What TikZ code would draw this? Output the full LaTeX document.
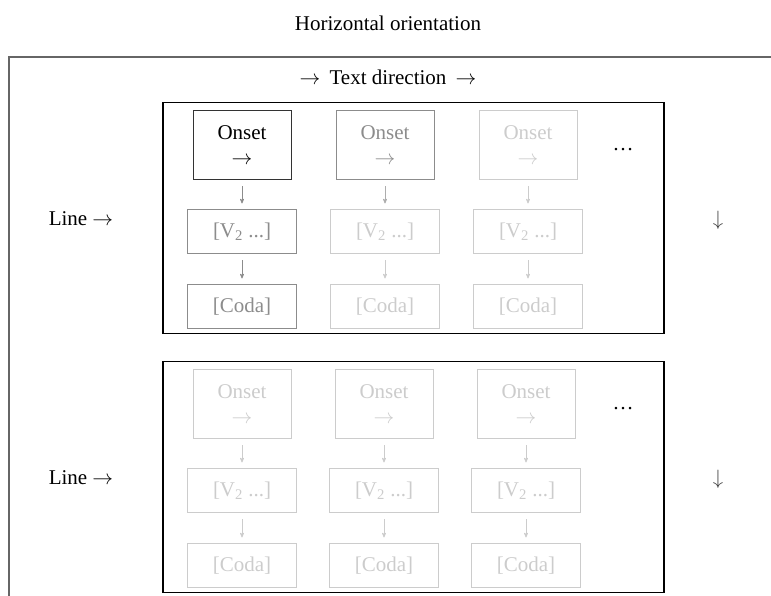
\documentclass[tikz,border=0pt]{standalone}
\usepackage{fontspec}
\setmainfont{Liberation Serif}
\usetikzlibrary{arrows,positioning}

\definecolor{dark}{gray}{0.2}
\definecolor{mid}{gray}{0.55}
\definecolor{pale}{gray}{0.68}
\definecolor{faint}{gray}{0.8}

\begin{document}
\begin{tikzpicture}[x=1pt,y=1pt,node distance=29pt,>=stealth',font=\fontsize{21}{25}\selectfont]
	\tikzstyle{onset}=[rectangle, draw, line width=1pt, minimum width=98pt, minimum height=69pt, inner sep=0pt, align=center]
	\tikzstyle{slot}=[rectangle, draw, line width=1pt, minimum width=109pt, minimum height=44pt, inner sep=0pt]
	\tikzstyle{lvl0}=[draw=dark, text=black]
	\tikzstyle{lvl1}=[draw=mid, text=mid]
	\tikzstyle{lvl2}=[draw=faint, text=faint]
	\tikzstyle{fall}=[->, line width=0.7pt, shorten <=6pt, shorten >=6pt]
	\tikzstyle{block}=[rectangle, draw=black, line width=1.1pt, minimum width=501pt, minimum height=231pt]

	\useasboundingbox (0,0) rectangle (771,596);
	\clip (0,0) rectangle (771,596);

	\node (title) at (388,573) {Horizontal orientation};
	\draw[draw=black!60, line width=1.5pt] (9,-20) rectangle (790,539);
	\node (dir) at (388,519) {$\rightarrow$\hspace{4pt} Text direction \hspace{4pt}$\rightarrow$};

	% first line
	\node [block] (line1) at (413.5,378) {};
	\node [onset,lvl0] (o11) at (242,450.5) {Onset\\$\rightarrow$};
	\node [slot,lvl1] (v11) [below=of o11] {[V\textsubscript{2} ...]};
	\node [slot,lvl1] (c11) [below=30pt of v11] {[Coda]};
	\draw [fall,mid] (o11) -- (v11);
	\draw [fall,mid] (v11) -- (c11);

	\node [onset,lvl1] (o12) [right=44pt of o11] {Onset\\$\rightarrow$};
	\node [slot,lvl2] (v12) [below=of o12] {[V\textsubscript{2} ...]};
	\node [slot,lvl2] (c12) [below=30pt of v12] {[Coda]};
	\draw [fall,pale] (o12) -- (v12);
	\draw [fall,faint] (v12) -- (c12);

	\node [onset,lvl2] (o13) [right=44pt of o12] {Onset\\$\rightarrow$};
	\node [slot,lvl2] (v13) [below=of o13] {[V\textsubscript{2} ...]};
	\node [slot,lvl2] (c13) [below=30pt of v13] {[Coda]};
	\draw [fall,faint] (o13) -- (v13);
	\draw [fall,faint] (v13) -- (c13);

	\node (more1) at (623,446) {…};
	\node (lab1) at (81,377) {Line $\rightarrow$};
	\node [text=black!75] (next1) at (718,376) {$\downarrow$};

	% second line
	\node [block] (line2) at (413.5,119) {};
	\foreach \i in {1,2,3} {
		\node [onset,lvl2] (o2\i) at ({242+142*(\i-1)},191.5) {Onset\\$\rightarrow$};
		\node [slot,lvl2] (v2\i) [below=of o2\i] {[V\textsubscript{2} ...]};
		\node [slot,lvl2] (c2\i) [below=30pt of v2\i] {[Coda]};
		\draw [fall,faint] (o2\i) -- (v2\i);
		\draw [fall,faint] (v2\i) -- (c2\i);
	}
	\node (more2) at (623,187) {…};
	\node (lab2) at (81,118) {Line $\rightarrow$};
	\node [text=black!75] (next2) at (718,117) {$\downarrow$};
\end{tikzpicture}
\end{document}
